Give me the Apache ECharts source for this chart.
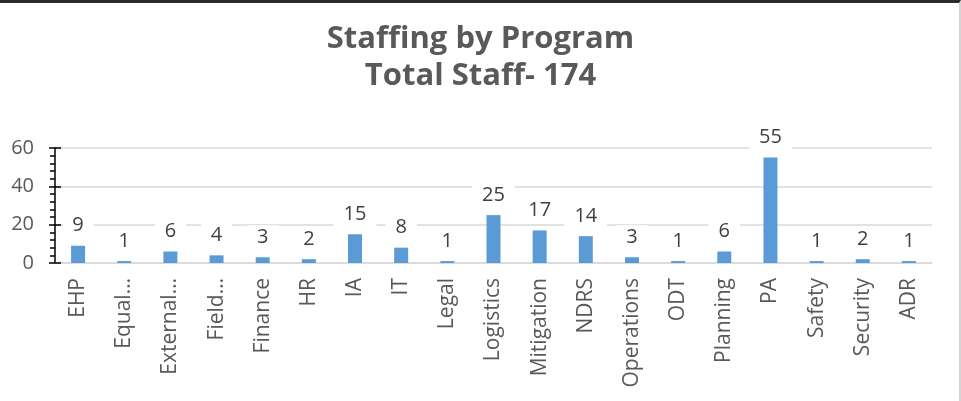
<!DOCTYPE html>
<html lang="en">
<head>
    <meta charset="UTF-8">
    <title>Staffing by Program</title>
    <script type="text/javascript" src="https://cdn.jsdelivr.net/npm/echarts@6/dist/echarts.min.js"></script>
    <style>
        html, body {
            width: 100%;
            height: 100%;
            margin: 0;
            padding: 0;
            background: #fff;
        }
        #frame {
            position: absolute;
            left: 0;
            top: 0;
            width: 961px;
            height: 401px;
            box-sizing: border-box;
            border-top: 3px solid #2b2b2b;
            border-right: 2px solid #d4d4d4;
        }
        #main {
            position: absolute;
            left: 0;
            top: 0;
            width: 961px;
            height: 401px;
        }
    </style>
</head>
<body>
    <div id="main"></div>
    <div id="frame"></div>
    <script>
        var programs = ['EHP', 'Equal\u2026', 'External\u2026', 'Field\u2026', 'Finance', 'HR', 'IA', 'IT', 'Legal',
            'Logistics', 'Mitigation', 'NDRS', 'Operations', 'ODT', 'Planning', 'PA', 'Safety', 'Security', 'ADR'];
        var staff = [9, 1, 6, 4, 3, 2, 15, 8, 1, 25, 17, 14, 3, 1, 6, 55, 1, 2, 1];
        var titleLines = ['Staffing by Program', 'Total Staff- 174'];

        var myChart = echarts.init(document.getElementById('main'));

        var option = {
            backgroundColor: '#fff',
            animation: false,
            title: {
                text: titleLines.join('\n'),
                left: 'center',
                top: 16,
                textStyle: {
                    fontFamily: 'Open Sans',
                    fontWeight: 'bold',
                    fontSize: 31,
                    lineHeight: 37,
                    color: '#595959'
                }
            },
            grid: {
                left: 55,
                right: 29,
                top: 148,
                bottom: 138
            },
            xAxis: {
                type: 'category',
                data: programs,
                axisLine: { lineStyle: { color: '#d9d9d9', width: 1.5 } },
                axisTick: { show: false },
                axisLabel: {
                    interval: 0,
                    rotate: 90,
                    margin: 15,
                    color: '#595959',
                    fontFamily: 'Open Sans',
                    fontSize: 21
                }
            },
            yAxis: [{
                type: 'value',
                min: 0,
                max: 60,
                interval: 20,
                axisLine: { show: true, lineStyle: { color: '#000', width: 1.5 } },
                axisTick: { show: true, length: 6, lineStyle: { color: '#000', width: 1.5 } },
                minorTick: { show: true, splitNumber: 5, length: 5, lineStyle: { color: '#000', width: 1.5 } },
                axisLabel: {
                    margin: 21,
                    color: '#595959',
                    fontFamily: 'Open Sans',
                    fontSize: 20
                },
                splitLine: { lineStyle: { color: '#d9d9d9', width: 1.5 } }
            }, {
                // inner half of the major ticks
                type: 'value',
                position: 'left',
                min: 0,
                max: 60,
                interval: 20,
                axisLine: { show: false },
                axisTick: { show: true, inside: true, length: 6, lineStyle: { color: '#000', width: 1.5 } },
                axisLabel: { show: false },
                splitLine: { show: false }
            }],
            series: [{
                name: 'Staff',
                type: 'bar',
                data: staff,
                barWidth: 14,
                itemStyle: { color: '#5b9bd5' },
                label: {
                    show: true,
                    position: 'top',
                    distance: 8,
                    color: '#404040',
                    fontFamily: 'Open Sans',
                    fontSize: 20,
                    backgroundColor: '#fff',
                    padding: [2, 10]
                }
            }]
        };
        myChart.setOption(option);

        window.addEventListener('resize', function() {
            myChart.resize();
        });
    </script>
</body>
</html>
